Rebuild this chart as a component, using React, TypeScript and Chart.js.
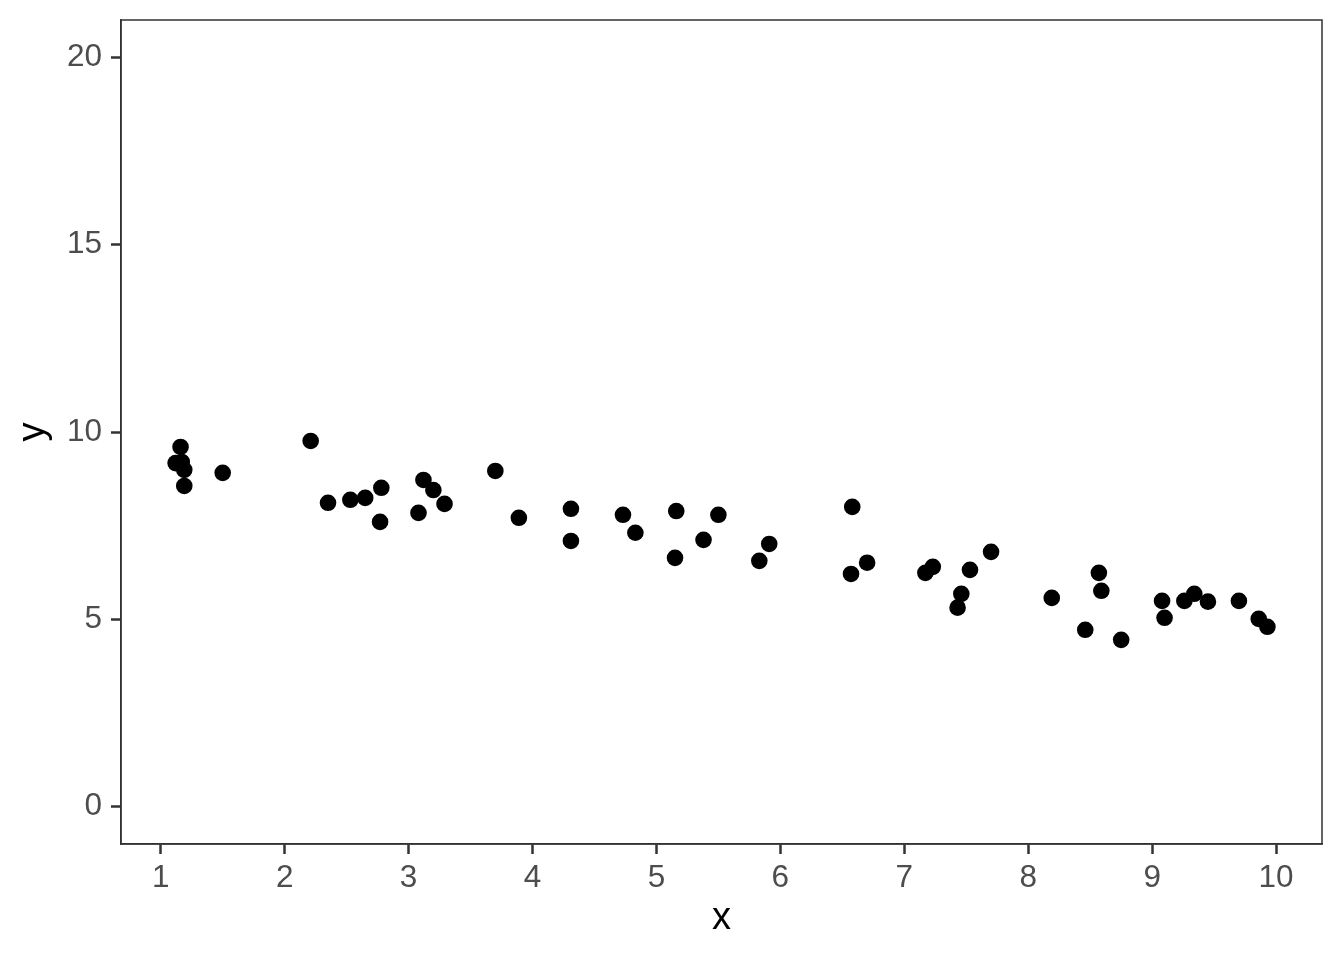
import React, { useEffect, useRef } from "react";
import { Chart, registerables } from "chart.js";

Chart.register(...registerables);

const xValues = [
  1.12, 1.16, 1.17, 1.19, 1.19, 1.5, 2.21, 2.35, 2.53, 2.65,
  2.78, 2.77, 3.08, 3.12, 3.2, 3.29, 3.7, 3.89, 4.31, 4.31,
  4.73, 4.83, 5.16, 5.15, 5.38, 5.5, 5.83, 5.91, 6.58, 6.57,
  6.7, 7.17, 7.23, 7.43, 7.46, 7.53, 7.7, 8.19, 8.46, 8.57,
  8.59, 8.75, 9.08, 9.1, 9.26, 9.34, 9.45, 9.7, 9.86, 9.93,
];
const yValues = [
  9.17, 9.6, 9.2, 8.99, 8.56, 8.91, 9.76, 8.11, 8.19, 8.24,
  8.51, 7.6, 7.84, 8.72, 8.45, 8.08, 8.96, 7.71, 7.95, 7.09,
  7.79, 7.31, 7.89, 6.64, 7.12, 7.79, 6.56, 7.01, 8.0, 6.21,
  6.51, 6.24, 6.4, 5.31, 5.68, 6.32, 6.8, 5.57, 4.72, 6.24,
  5.76, 4.45, 5.49, 5.04, 5.49, 5.68, 5.47, 5.49, 5.01, 4.8,
];
const xTicks = [1, 2, 3, 4, 5, 6, 7, 8, 9, 10];
const yTicks = [0, 5, 10, 15, 20];
const xTitle = "x";
const yTitle = "y";

const FONT = "'Liberation Sans', Arial, Helvetica, sans-serif";

export default function App() {
  const ref = useRef<HTMLCanvasElement | null>(null);

  useEffect(() => {
    document.body.style.margin = "0";
    const canvas = ref.current;
    if (!canvas) return;

    const points = xValues.map((x, i) => ({ x, y: yValues[i] }));
    const xMinData = Math.min(...xValues);
    const xMaxData = Math.max(...xValues);
    const xSpan = xMaxData - xMinData;
    const yMinData = Math.min(...yTicks);
    const yMaxData = Math.max(...yTicks);
    const ySpan = yMaxData - yMinData;

    const panelBorder = {
      id: "panelBorder",
      afterDraw(chart: any) {
        const { ctx, chartArea } = chart;
        ctx.save();
        ctx.strokeStyle = "#333333";
        ctx.lineWidth = 1.5;
        ctx.strokeRect(
          chartArea.left,
          chartArea.top,
          chartArea.right - chartArea.left,
          chartArea.bottom - chartArea.top
        );
        ctx.restore();
      },
    };

    const chart = new Chart(canvas, {
      type: "scatter",
      data: {
        datasets: [
          {
            data: points,
            backgroundColor: "#000000",
            borderWidth: 0,
            pointRadius: 8.3,
            pointHoverRadius: 8.3,
          },
        ],
      },
      options: {
        responsive: false,
        animation: false,
        layout: { padding: { top: 20, right: 22, left: 0, bottom: 0 } },
        plugins: {
          legend: { display: false },
          tooltip: { enabled: false },
        },
        scales: {
          x: {
            type: "linear",
            min: xMinData - 0.05 * xSpan,
            max: xMaxData + 0.05 * xSpan,
            afterBuildTicks: (scale: any) => {
              scale.ticks = xTicks.map((v) => ({ value: v }));
            },
            afterFit: (scale: any) => {
              scale.height = 116;
              scale.paddingLeft = 0;
              scale.paddingRight = 0;
            },
            ticks: {
              color: "#4D4D4D",
              font: { family: FONT, size: 31.5 },
              padding: 5,
              callback: (v: any) => String(v),
            },
            grid: {
              drawOnChartArea: false,
              drawTicks: true,
              tickLength: 10,
              tickWidth: 2.5,
              tickColor: "#333333",
            },
            border: { display: true, color: "#333333", width: 1.5 },
            title: {
              display: true,
              text: xTitle,
              color: "#000000",
              font: { family: FONT, size: 38 },
              padding: { top: 0, bottom: 19 },
            },
          },
          y: {
            type: "linear",
            min: yMinData - 0.05 * ySpan,
            max: yMaxData + 0.05 * ySpan,
            afterBuildTicks: (scale: any) => {
              scale.ticks = yTicks.map((v) => ({ value: v }));
            },
            afterFit: (scale: any) => {
              scale.width = 121;
              scale.paddingTop = 0;
              scale.paddingBottom = 0;
            },
            ticks: {
              color: "#4D4D4D",
              font: { family: FONT, size: 31.5 },
              padding: 9,
              callback: (v: any) => String(v),
            },
            grid: {
              drawOnChartArea: false,
              drawTicks: true,
              tickLength: 10,
              tickWidth: 2.5,
              tickColor: "#333333",
            },
            border: { display: true, color: "#333333", width: 1.5 },
            title: {
              display: true,
              text: yTitle,
              color: "#000000",
              font: { family: FONT, size: 38 },
              padding: { top: 11, bottom: 0 },
            },
          },
        },
      },
      plugins: [panelBorder],
    });

    return () => chart.destroy();
  }, []);

  return <canvas ref={ref} width={1344} height={960} style={{ display: "block" }} />;
}
